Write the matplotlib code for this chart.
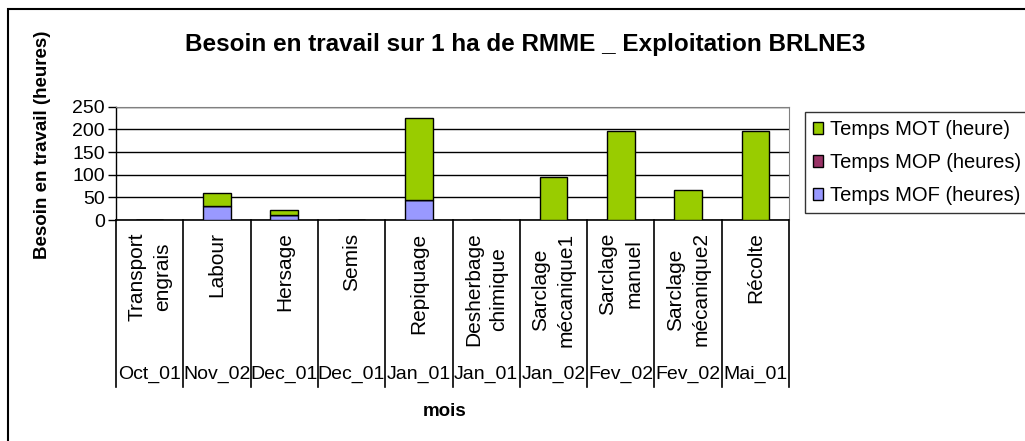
import matplotlib.pyplot as plt
import numpy as np
from matplotlib.patches import Rectangle
from matplotlib.lines import Line2D

plt.rcParams['font.family'] = ['Liberation Sans', 'DejaVu Sans']

# Data
operations = ["Transport\nengrais", "Labour", "Hersage", "Semis", "Repiquage",
              "Desherbage\nchimique", "Sarclage\nmécanique1", "Sarclage\nmanuel",
              "Sarclage\nmécanique2", "Récolte"]
months = ["Oct_01", "Nov_02", "Dec_01", "Dec_01", "Jan_01",
          "Jan_01", "Jan_02", "Fev_02", "Fev_02", "Mai_01"]
mof = [0, 31, 10, 0, 45, 0, 0, 0, 0, 0]
mop = [0, 0, 0, 0, 0, 0, 0, 0, 0, 0]
mot = [0, 29, 11, 0, 179, 0, 94, 197, 67, 197]

c_mot = '#99CC00'
c_mop = '#993366'
c_mof = '#9999FF'

fig = plt.figure(figsize=(10.25, 4.41), dpi=100)
ax = fig.add_axes([116 / 1025, 1 - 220 / 441, (789 - 116) / 1025, (220 - 106.7) / 441])

x = np.arange(len(operations))
w = 0.41
mof = np.array(mof)
mop = np.array(mop)
mot = np.array(mot)
ax.bar(x, mof, w, color=c_mof, edgecolor='black', linewidth=1, zorder=3)
ax.bar(x, mop, w, bottom=mof, color=c_mop, edgecolor='black', linewidth=1, zorder=3)
ax.bar(x, mot, w, bottom=mof + mop, color=c_mot, edgecolor='black', linewidth=1, zorder=3)

ax.set_xlim(-0.5, len(operations) - 0.5)
ax.set_ylim(0, 250)
ax.set_yticks(range(0, 251, 50))
ax.tick_params(axis='y', labelsize=14, length=6, width=1, direction='out', pad=2)
ax.set_xticks([])
ax.yaxis.grid(True, color='black', linewidth=1, zorder=0)
for s in ['top', 'right']:
    ax.spines[s].set_color('#808080')
ax.spines['left'].set_linewidth(1)
ax.spines['bottom'].set_linewidth(1.2)

# category axis: separators, operation names and months
trans = ax.get_xaxis_transform()
for b in np.arange(-0.5, len(operations), 1):
    ax.add_line(Line2D([b, b], [0, -1.47], transform=trans, color='black',
                       linewidth=1.2, clip_on=False))
for i in range(len(operations)):
    ax.text(i, -0.11, operations[i], rotation=90, ha='center', va='top',
            multialignment='center', linespacing=1.45, fontsize=15,
            transform=trans, clip_on=False)
    ax.text(i, -1.36, months[i], ha='center', va='center', fontsize=14,
            transform=trans, clip_on=False)

fig.text(445 / 1025, 1 - 412 / 441, "mois", ha='center', va='center',
         fontsize=13.5, fontweight='bold')
fig.text(43 / 1025, 1 - 145 / 441, "Besoin en travail (heures)", rotation=90,
         ha='center', va='center', fontsize=13.5, fontweight='bold')
fig.text(525 / 1025, 1 - 45 / 441, "Besoin en travail sur 1 ha de RMME _ Exploitation BRLNE3",
         ha='center', va='center', fontsize=17.5, fontweight='bold')

# legend
handles = [Rectangle((0, 0), 1, 1, facecolor=c, edgecolor='black', linewidth=1)
           for c in (c_mot, c_mop, c_mof)]
leg = fig.legend(handles, ["Temps MOT (heure)", "Temps MOP (heures)", "Temps MOF (heures)"],
                 loc='upper left', bbox_to_anchor=(805 / 1025, 1 - 112 / 441),
                 fontsize=14.5, frameon=True, fancybox=False, edgecolor='black',
                 handlelength=0.5, handleheight=0.5, handletextpad=0.35,
                 borderpad=0.4, labelspacing=0.7, borderaxespad=0)
leg.get_frame().set_linewidth(1)

# outer chart border
fig.patches.append(Rectangle((8 / 1025, -0.1), 1.1, 1 - 9 / 441 + 0.1, transform=fig.transFigure,
                             fill=False, edgecolor='black', linewidth=1.5))

fig.savefig("out.png", dpi=100)
